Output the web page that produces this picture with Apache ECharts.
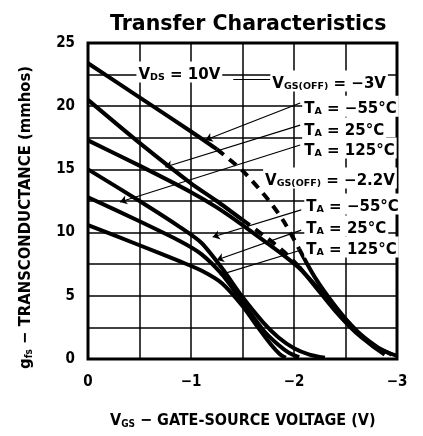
<!DOCTYPE html>
<html>
<head>
<meta charset="utf-8">
<script src="https://cdn.jsdelivr.net/npm/echarts@6/dist/echarts.min.js"></script>
<style>
  html, body { margin: 0; padding: 0; background: #ffffff; }
  #chart { width: 423px; height: 436px; }
</style>
</head>
<body>
<div id="chart"></div>
<script>
// Gate-source voltage (V) vs. forward transconductance (mmhos), V_DS = 10 V
// V_GS(OFF) = -3 V device
const voff3_m55 = [[0,23.4],[-0.5,20.7],[-1,18.0],[-1.25,16.6],[-1.5,14.9],[-1.75,12.6],[-1.9,10.9],[-2.05,8.7],[-2.2,6.5],[-2.4,4.2],[-2.6,2.3],[-2.8,1.0],[-2.95,0.35]];
const voff3_25  = [[0,20.5],[-0.5,17.1],[-1,13.9],[-1.25,12.5],[-1.5,11.0],[-1.75,9.5],[-1.9,8.5],[-2.05,7.3],[-2.2,5.8],[-2.4,3.8],[-2.6,2.1],[-2.8,0.9],[-3,0.25]];
const voff3_125 = [[0,17.3],[-0.5,15.3],[-1,13.2],[-1.25,12.0],[-1.5,10.6],[-1.75,9.1],[-1.9,8.2],[-2.05,7.2],[-2.2,5.9],[-2.4,4.0],[-2.6,2.3],[-2.75,1.1],[-2.88,0.35]];
// V_GS(OFF) = -2.2 V device
const voff22_m55 = [[0,15.0],[-0.5,12.5],[-0.9,10.4],[-1.1,9.2],[-1.3,7.2],[-1.5,4.9],[-1.7,2.9],[-1.85,1.7],[-2.0,0.85],[-2.15,0.35],[-2.3,0.1]];
const voff22_25  = [[0,12.8],[-0.5,10.9],[-0.9,9.3],[-1.1,8.3],[-1.3,6.7],[-1.5,4.5],[-1.7,2.3],[-1.85,1.1],[-1.95,0.5],[-2.05,0.15]];
const voff22_125 = [[0,10.6],[-0.5,9.0],[-0.9,7.7],[-1.1,7.0],[-1.3,6.0],[-1.5,4.2],[-1.65,2.5],[-1.78,1.1],[-1.86,0.4],[-1.92,0.1]];

const xTicks = [0, -1, -2, -3];
const yTicks = [0, 5, 10, 15, 20, 25];

// Annotation text anchors (data units) and leader lines [from, to]
const noteTexts = [
  '{m|V}{s|DS}{m| = 10V}',
  '{m|V}{s|GS(OFF)}{m| = −3V}',
  '{m|T}{s|A}{m| = −55°C}',
  '{m|T}{s|A}{m| = 25°C}',
  '{m|T}{s|A}{m| = 125°C}',
  '{m|V}{s|GS(OFF)}{m| = −2.2V}',
  '{m|T}{s|A}{m| = −55°C}',
  '{m|T}{s|A}{m| = 25°C}',
  '{m|T}{s|A}{m| = 125°C}'
];
const noteAnchors = [[-0.47,22.7],[-1.77,22.0],[-2.08,20.0],[-2.08,18.27],[-2.08,16.69],[-1.7,14.32],[-2.1,12.26],[-2.1,10.52],[-2.1,8.86]];
const leaders = [
  [[-2.06,20.25],[-1.14,17.33]],
  [[-2.06,18.5],[-0.75,15.19]],
  [[-2.06,16.93],[-0.31,12.42]],
  [[-2.07,11.8],[-1.21,9.65]],
  [[-2.07,10.2],[-1.25,7.83]],
  [[-2.07,8.62],[-1.28,6.65]]
];
const bracket = [[-1.41,22.15],[-1.77,22.15]];

// Index ranges of the broken (dashed) stretches on the -3 V curves
const dashA = [3, 7];
const dashB = [4, 7];

const ink = '#000000';
const boldNarrow = '"Liberation Sans Narrow", "DejaVu Sans Condensed", "Liberation Sans", sans-serif';
const boldWide = '"DejaVu Sans", "Liberation Sans", sans-serif';

function curve(data, dashed) {
  return {
    type: 'line', data: data, showSymbol: false, smooth: 0.25,
    lineStyle: { color: ink, width: 4, type: dashed ? [9, 7] : 'solid' }, z: 3, silent: true
  };
}
function broken(data, range) {
  return [
    curve(data.slice(0, range[0] + 1), false),
    curve(data.slice(range[0], range[1] + 1), true),
    curve(data.slice(range[1]), false)
  ];
}

const chart = echarts.init(document.getElementById('chart'), null, { renderer: 'canvas' });

chart.setOption({
  animation: false,
  backgroundColor: '#ffffff',
  title: {
    text: 'Transfer Characteristics', left: 105, top: 9,
    textStyle: { fontFamily: boldWide, fontWeight: 'bold', fontSize: 20.5, color: ink }
  },
  grid: { left: 88, right: 26, top: 43, bottom: 77, show: true, borderColor: ink, borderWidth: 3, backgroundColor: 'transparent' },
  xAxis: {
    type: 'value', min: -3, max: 0, interval: 0.5, inverse: true,
    axisLine: { show: false }, axisTick: { show: false },
    splitLine: { show: true, lineStyle: { color: ink, width: 1.5 } },
    axisLabel: {
      margin: 16, color: ink, fontFamily: boldNarrow, fontWeight: 'bold', fontSize: 15,
      formatter: v => xTicks.includes(v) ? (v === 0 ? '0' : '−' + Math.abs(v)) : ''
    }
  },
  yAxis: {
    type: 'value', min: 0, max: 25, interval: 2.5,
    axisLine: { show: false }, axisTick: { show: false },
    splitLine: { show: true, lineStyle: { color: ink, width: 1.5 } },
    axisLabel: {
      margin: 13, color: ink, fontFamily: boldNarrow, fontWeight: 'bold', fontSize: 15,
      formatter: v => yTicks.includes(v) ? String(v) : ''
    }
  },
  series: [
    ...broken(voff3_m55, dashA), ...broken(voff3_25, dashB), curve(voff3_125, false),
    curve(voff22_m55, false), curve(voff22_25, false), curve(voff22_125, false),
    {
      type: 'scatter', symbolSize: 0, z: 5, silent: true,
      itemStyle: { opacity: 1 },
      data: noteAnchors.map((p, i) => ({ value: p, label: { formatter: noteTexts[i] } })),
      label: {
        show: true, position: 'right', distance: 0, color: ink, opacity: 1, backgroundColor: '#ffffff', padding: [2, 2, 0, 2],
        rich: {
          m: { fontFamily: boldWide, fontWeight: 'bold', fontSize: 15, color: ink, lineHeight: 19, verticalAlign: 'bottom' },
          s: { fontFamily: boldWide, fontWeight: 'bold', fontSize: 9.5, color: ink, lineHeight: 12, verticalAlign: 'bottom' }
        }
      },
      markLine: {
        silent: true, symbol: ['none', 'arrow'], symbolSize: 7, precision: 3,
        label: { show: false },
        lineStyle: { color: ink, width: 1.2, type: 'solid', opacity: 1 },
        data: leaders.map(l => [{ coord: l[0] }, { coord: l[1] }])
          .concat([[{ coord: bracket[0], symbol: 'none' }, { coord: bracket[1], symbol: 'none' }]])
      }
    }
  ],
  graphic: [
    {
      type: 'text', left: 110, top: 413, silent: true,
      style: {
        text: '{m|V}{s|GS}{m| − GATE-SOURCE VOLTAGE (V)}',
        rich: {
          m: { fontFamily: boldNarrow, fontWeight: 'bold', fontSize: 16, fill: ink, lineHeight: 18, verticalAlign: 'bottom' },
          s: { fontFamily: boldNarrow, fontWeight: 'bold', fontSize: 10, fill: ink, lineHeight: 12, verticalAlign: 'bottom' }
        }
      }
    },
    {
      type: 'text', x: 16, y: 369, rotation: Math.PI / 2, silent: true,
      style: {
        text: '{m|g}{s|fs}{m| − TRANSCONDUCTANCE (mmhos)}',
        rich: {
          m: { fontFamily: boldNarrow, fontWeight: 'bold', fontSize: 16.5, fill: ink, lineHeight: 18, verticalAlign: 'bottom' },
          s: { fontFamily: boldNarrow, fontWeight: 'bold', fontSize: 10, fill: ink, lineHeight: 12, verticalAlign: 'bottom' }
        }
      }
    }
  ]
});
</script>
</body>
</html>
